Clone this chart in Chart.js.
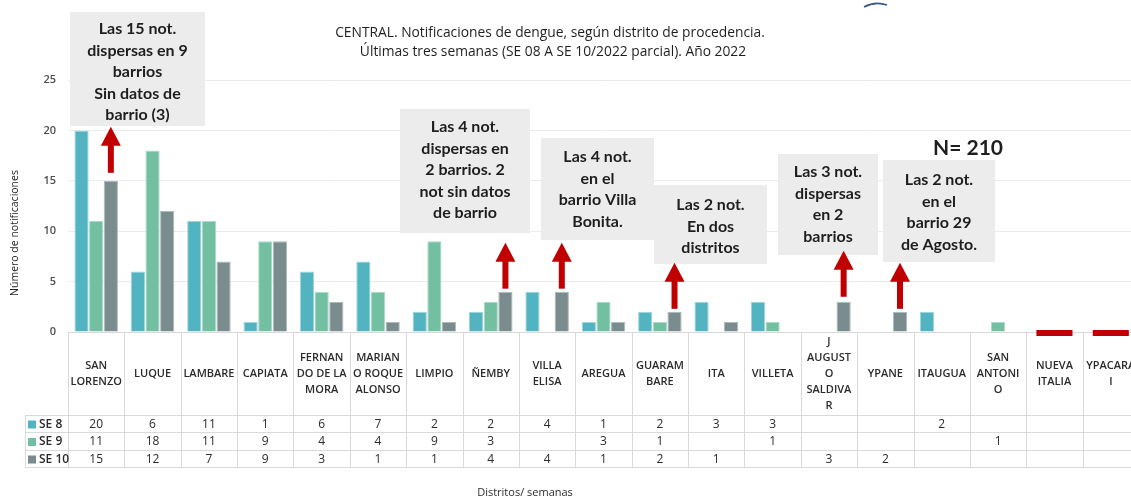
<!DOCTYPE html>
<html>
<head>
<meta charset="utf-8">
<script src="https://cdn.jsdelivr.net/npm/chart.js@4/dist/chart.umd.min.js"></script>
<style>
html,body{margin:0;padding:0;background:#fff;overflow:hidden}
#wrap{width:1145px;height:501px;position:relative}
</style>
</head>
<body>
<div id="wrap"><canvas id="grafico"></canvas></div>
<script>
// -------- datos --------
const distritos = [
  ['SAN','LORENZO'], ['LUQUE'], ['LAMBARE'], ['CAPIATA'], ['FERNAN','DO DE LA','MORA'],
  ['MARIAN','O ROQUE','ALONSO'], ['LIMPIO'], ['ÑEMBY'], ['VILLA','ELISA'], ['AREGUA'],
  ['GUARAM','BARE'], ['ITA'], ['VILLETA'], ['J','AUGUST','O','SALDIVA','R'], ['YPANE'],
  ['ITAUGUA'], ['SAN','ANTONI','O'], ['NUEVA','ITALIA'], ['YPACARA','I']
];
const semanas = ['SE 8', 'SE 9', 'SE 10'];
const se8  = [20, 6, 11, 1, 6, 7, 2, 2, 4, 1, 2, 3, 3, null, null, 2, null, null, null];
const se9  = [11, 18, 11, 9, 4, 4, 9, 3, null, 3, 1, null, 1, null, null, null, 1, null, null];
const se10 = [15, 12, 7, 9, 3, 1, 1, 4, 4, 1, 2, 1, null, 3, 2, null, null, null, null];
// distritos sin notificaciones (marca roja sobre el eje)
const sinCasos = [null, null, null, null, null, null, null, null, null, null, null, null, null, null, null, null, null, [-0.4, 0.2], [-0.4, 0.2]];
const yTicks = [0, 5, 10, 15, 20, 25];

const titulo = [
  'CENTRAL. Notificaciones de dengue, según distrito de procedencia.',
  'Últimas tres semanas (SE 08 A SE 10/2022 parcial). Año 2022'
];
const notas = [
  {idx: 0,  lines: ['Las 15 not.', 'dispersas en 9', 'barrios', 'Sin datos de', 'barrio (3)']},
  {idx: 7,  lines: ['Las 4 not.', 'dispersas en', '2 barrios. 2', 'not sin datos', 'de barrio']},
  {idx: 8,  lines: ['Las 4 not.', 'en el', 'barrio Villa', 'Bonita.']},
  {idx: 10, lines: ['Las 2 not.', 'En dos', 'distritos']},
  {idx: 13, lines: ['Las 3 not.', 'dispersas', 'en 2', 'barrios']},
  {idx: 14, lines: ['Las 2 not.', 'en el', 'barrio 29', 'de Agosto.']}
];
const total = 'N= 210';

// -------- estilos / posiciones de las notas --------
const colores = ['#52b4c0', '#72bfa2', '#7a8c8d'];
const bordes  = ['#9dd5dc', '#abdac8', '#aeb9ba'];
const cajas = [
  {x1: 70,  y1: 12,  x2: 205, y2: 126, y0: 29,  gap: 8},
  {x1: 400, y1: 109, x2: 530, y2: 233, y0: 127, gap: 3},
  {x1: 541, y1: 138, x2: 654, y2: 240, y0: 157, gap: 3},
  {x1: 654, y1: 185, x2: 767, y2: 264, y0: 205, gap: 3},
  {x1: 778, y1: 154, x2: 878, y2: 255, y0: 172, gap: 5},
  {x1: 883, y1: 160, x2: 995, y2: 262, y0: 180, gap: 3}
];

function flecha(ctx, x, bottom, top){
  ctx.fillStyle = '#c00000';
  ctx.fillRect(x - 3, top + 18, 6, bottom - top - 18);
  ctx.beginPath();
  ctx.moveTo(x, top);
  ctx.lineTo(x + 10, top + 19);
  ctx.lineTo(x - 10, top + 19);
  ctx.closePath();
  ctx.fill();
}

// -------- plugin: títulos, notas y tabla --------
const extras = {
  id: 'extras',
  afterDraw(chart){
    const ctx = chart.ctx, xs = chart.scales.x, area = chart.chartArea;
    const colW = (area.right - area.left) / distritos.length;
    ctx.save();

    // logo recortado
    ctx.strokeStyle = '#3a5786'; ctx.lineWidth = 1.6;
    ctx.beginPath(); ctx.moveTo(864, 7); ctx.quadraticCurveTo(875, 1, 887, 5); ctx.stroke();

    // título
    ctx.fillStyle = '#1f1f1f';
    ctx.textAlign = 'center'; ctx.textBaseline = 'middle';
    ctx.font = '13.8px "Open Sans"';
    ctx.fillText(titulo[0], 550, 33);
    ctx.fillText(titulo[1], 553, 52);

    // título eje y
    ctx.save();
    ctx.translate(15, 233); ctx.rotate(-Math.PI / 2);
    ctx.font = '10.5px "Open Sans"';
    ctx.fillText('Número de notificaciones', 0, 0);
    ctx.restore();

    // notas
    cajas.forEach((b, i) => {
      ctx.fillStyle = '#ececec';
      ctx.fillRect(b.x1, b.y1, b.x2 - b.x1, b.y2 - b.y1);
      ctx.fillStyle = '#1e1e1e';
      ctx.font = 'bold 16px Lato';
      notas[i].lines.forEach((t, k) => ctx.fillText(t, (b.x1 + b.x2) / 2, b.y0 + k * 21.5));
      const bar = chart.getDatasetMeta(2).data[notas[i].idx];
      const bottom = bar.y - b.gap;
      flecha(ctx, bar.x, bottom, bottom - 46);
    });

    ctx.fillStyle = '#1e1e1e';
    ctx.font = 'bold 21px Lato';
    ctx.fillText(total, 968, 148);

    // tabla de datos
    const rows = [415, 432, 450, 467];
    ctx.strokeStyle = '#d9d9d9'; ctx.lineWidth = 1;
    ctx.beginPath();
    for (let i = 0; i <= distritos.length; i++) {
      const x = Math.round(area.left + i * colW) + 0.5;
      ctx.moveTo(x, area.bottom); ctx.lineTo(x, rows[3]);
    }
    ctx.moveTo(25.5, rows[0]); ctx.lineTo(25.5, rows[3]);
    rows.forEach(y => { ctx.moveTo(25, y + 0.5); ctx.lineTo(area.right, y + 0.5); });
    ctx.stroke();

    // categorías
    ctx.fillStyle = '#2b2b2b';
    ctx.font = '600 11px "Open Sans"';
    distritos.forEach((lab, i) => {
      const cx = xs.getPixelForValue(i);
      const y0 = 374 - (lab.length - 1) * 16 / 2;
      lab.forEach((t, k) => ctx.fillText(t, cx, y0 + k * 16));
    });

    // filas de valores
    const series = [se8, se9, se10];
    series.forEach((s, r) => {
      const cy = (rows[r] + rows[r + 1]) / 2 + 1;
      ctx.fillStyle = colores[r];
      ctx.fillRect(28, cy - 4, 8, 8);
      ctx.fillStyle = '#2b2b2b';
      ctx.textAlign = 'left';
      ctx.font = '600 12px "Open Sans"';
      ctx.fillText(semanas[r], 39, cy);
      ctx.textAlign = 'center';
      ctx.font = '12px "Open Sans"';
      s.forEach((v, i) => { if (v !== null) ctx.fillText(String(v), xs.getPixelForValue(i), cy); });
    });

    ctx.font = '11px "Open Sans"';
    ctx.fillText('Distritos/ semanas', 525, 493);
    ctx.restore();
  }
};

// -------- gráfico --------
const barras = [se8, se9, se10].map((d, i) => ({
  label: semanas[i], data: d,
  backgroundColor: colores[i], borderColor: bordes[i], borderWidth: 1,
  categoryPercentage: 0.78, barPercentage: 0.97
}));
barras.push({
  label: 'sin casos', data: sinCasos, backgroundColor: '#c00000',
  grouped: false, categoryPercentage: 1, barPercentage: 0.64, clip: false, borderWidth: 0
});

new Chart(document.getElementById('grafico'), {
  type: 'bar',
  data: { labels: distritos.map(l => l.join(' ')), datasets: barras },
  options: {
    responsive: true, maintainAspectRatio: false, animation: false,
    layout: { padding: { left: 0, top: 80, right: 6, bottom: 169 } },
    plugins: { legend: { display: false }, tooltip: { enabled: false } },
    scales: {
      x: { display: false },
      y: {
        min: 0, max: 25,
        afterFit: s => { s.width = 68; },
        afterBuildTicks: s => { s.ticks = yTicks.map(v => ({ value: v })); },
        border: { display: false },
        grid: { color: ctx => ctx.tick.value === 0 ? '#d9d9d9' : '#ebebeb', drawTicks: false },
        ticks: { padding: 12, color: '#4d4d4d', font: { family: 'Open Sans', size: 11, weight: '600' } }
      }
    }
  },
  plugins: [extras]
});
</script>
</body>
</html>
